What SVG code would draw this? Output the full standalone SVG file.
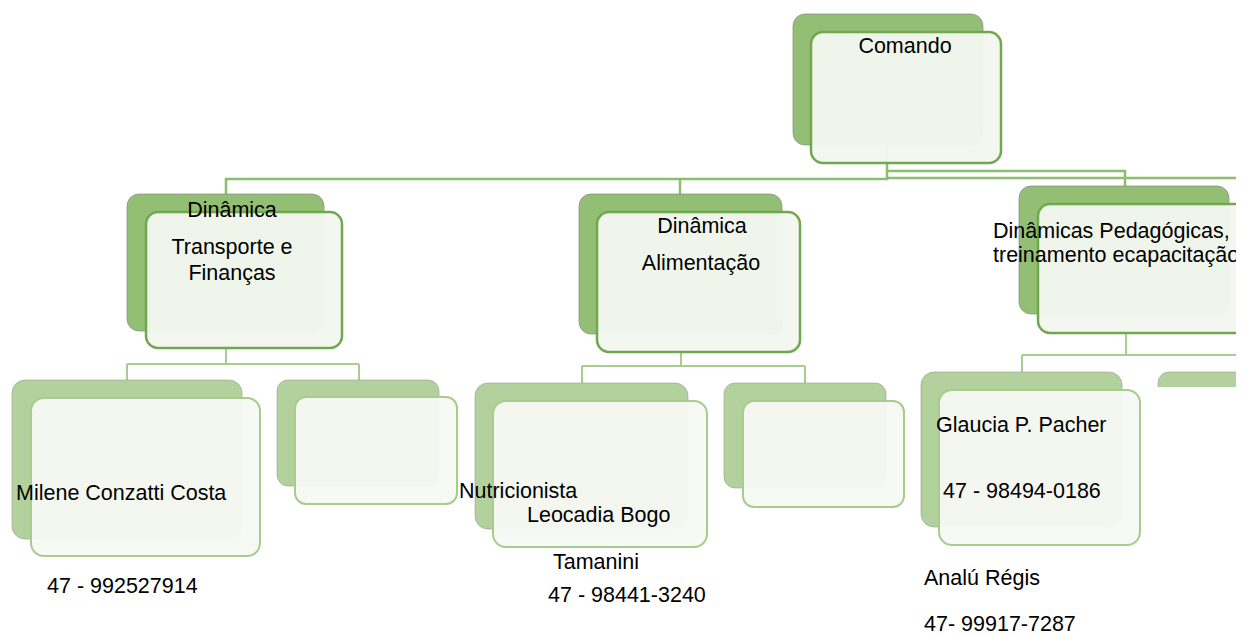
<svg xmlns="http://www.w3.org/2000/svg" width="1251" height="635" viewBox="0 0 1251 635">
<style>
text{font-family:"Liberation Sans",Arial,sans-serif;font-size:21.5px;fill:#000}
.c1{fill:none;stroke:#8dbd6f;stroke-width:2.5}
.c2{fill:none;stroke:#a9cd8f;stroke-width:2}
.b1{fill:#93bf74;stroke:#8a8a8a;stroke-width:1;stroke-opacity:0.7}
.f1{fill:#f3f7ef;fill-opacity:0.96;stroke:#6fa84e;stroke-width:2.5}
.b2{fill:#b3d19c;stroke:#999;stroke-width:1;stroke-opacity:0.6}
.f2{fill:#f7f9f4;fill-opacity:0.96;stroke:#a8cc8e;stroke-width:2}
.m{text-anchor:middle}
</style>
<defs>
<clipPath id="cp"><rect x="0" y="0" width="1236" height="635"/></clipPath>
<clipPath id="cp2"><rect x="0" y="0" width="1236" height="387"/></clipPath>
</defs>
<rect width="1251" height="635" fill="#fff"/>
<g clip-path="url(#cp)">
<g id="connectors">
<path class="c1" d="M887,145 V179 H226 V194 M680,179 V194 M887,171 H1125 V186 M887,178 H1236"/>
<path class="c2" d="M226,348 V364 M127,364 H359 M127,364 V380 M359,364 V380"/>
<path class="c2" d="M681,352 V366 M582,366 H805 M582,366 V383 M805,366 V383"/>
<path class="c2" d="M1126,333 V355 M1022,355 H1236 M1022,355 V372"/>
</g>
<g id="comando">
<rect class="b1" x="793" y="14" width="190" height="131" rx="12"/>
<rect class="f1" x="811" y="32" width="190" height="131" rx="12"/>
<text class="m" x="905" y="53">Comando</text>
</g>
<g id="transporte">
<rect class="b1" x="127" y="194" width="197" height="137" rx="12"/>
<rect class="f1" x="146" y="212" width="196" height="136" rx="12"/>
<text class="m" x="232" y="217">Dinâmica</text>
<text class="m" x="232" y="254">Transporte e</text>
<text class="m" x="232" y="280">Finanças</text>
</g>
<g id="alimentacao">
<rect class="b1" x="579" y="194" width="203" height="140" rx="12"/>
<rect class="f1" x="597" y="212" width="203" height="140" rx="12"/>
<text class="m" x="702" y="233">Dinâmica</text>
<text class="m" x="701" y="270">Alimentação</text>
</g>
<g id="pedagogicas">
<rect class="b1" x="1019" y="186" width="210" height="128" rx="12"/>
<rect class="f1" x="1038" y="204" width="220" height="129" rx="12"/>
<text x="993" y="238">Dinâmicas Pedagógicas,</text>
<text x="993" y="262">treinamento ecapacitação</text>
</g>
<g id="milene">
<rect class="b2" x="12" y="380" width="230" height="159" rx="13"/>
<rect class="f2" x="31" y="398" width="229" height="158" rx="13"/>
<text x="16" y="500">Milene Conzatti Costa</text>
<text x="47" y="593">47 - 992527914</text>
</g>
<g id="vazio1">
<rect class="b2" x="277" y="380" width="162" height="106" rx="11"/>
<rect class="f2" x="295" y="397" width="162" height="107" rx="11"/>
</g>
<g id="nutricionista">
<rect class="b2" x="475" y="383" width="213" height="146" rx="13"/>
<rect class="f2" x="493" y="401" width="214" height="146" rx="13"/>
<text x="459" y="498">Nutricionista</text>
<text x="527" y="522">Leocadia Bogo</text>
<text x="553" y="569">Tamanini</text>
<text x="548" y="602">47 - 98441-3240</text>
</g>
<g id="vazio2">
<rect class="b2" x="724" y="383" width="162" height="105" rx="11"/>
<rect class="f2" x="743" y="401" width="161" height="106" rx="11"/>
</g>
<g id="glaucia">
<rect class="b2" x="921" y="372" width="201" height="155" rx="13"/>
<rect class="f2" x="939" y="390" width="201" height="155" rx="13"/>
<text x="936" y="432">Glaucia P. Pacher</text>
<text x="943" y="498">47 - 98494-0186</text>
<text x="924" y="585">Analú Régis</text>
<text x="924" y="631">47- 99917-7287</text>
</g>
<g id="cortado" clip-path="url(#cp2)">
<rect class="b2" x="1158" y="372" width="160" height="110" rx="11"/>
</g>
</g>
</svg>
